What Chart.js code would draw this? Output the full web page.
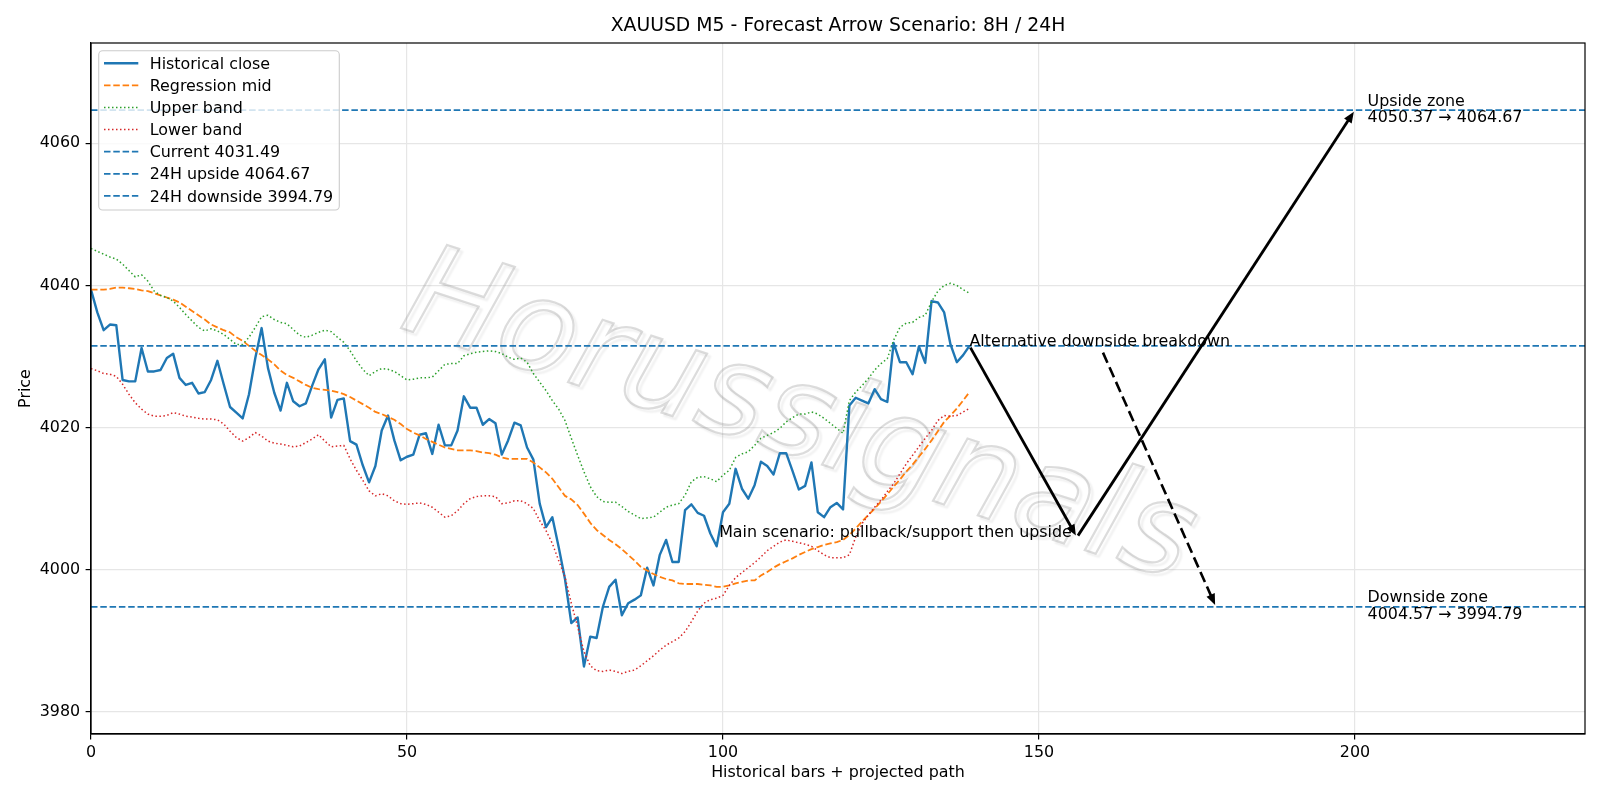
<!DOCTYPE html>
<html><head><meta charset="utf-8">
<script src="https://cdn.jsdelivr.net/npm/chart.js@4.4.1/dist/chart.umd.min.js"></script>
<style>html,body{margin:0;padding:0;background:#fff;}canvas{display:block;}</style>
</head><body>
<canvas id="c" width="1600" height="800"></canvas>
<script>
// ---------- data ----------
const TITLE = 'XAUUSD M5 - Forecast Arrow Scenario: 8H / 24H';
const X_LABEL = 'Historical bars + projected path';
const Y_LABEL = 'Price';
const X_MIN = 0, X_MAX = 236.4;
const Y_MIN = 3976.9, Y_MAX = 4074.1;
const X_TICK_STEP = 50, Y_TICK_STEP = 20;

const historicalClose = [
4039.4,4036.2,4033.7,4034.5,4034.4,4026.7,4026.5,4026.5,4031.2,4027.9,
4027.9,4028.1,4029.8,4030.4,4027.0,4026.0,4026.3,4024.8,4025.0,4026.7,
4029.4,4026.1,4022.9,4022.1,4021.3,4024.7,4029.8,4034.0,4028.4,4024.9,
4022.4,4026.3,4023.7,4023.0,4023.4,4025.9,4028.2,4029.6,4021.4,4023.9,
4024.1,4018.1,4017.6,4014.7,4012.3,4014.6,4019.6,4021.7,4018.2,4015.4,
4015.9,4016.2,4019.0,4019.2,4016.3,4020.4,4017.5,4017.5,4019.6,4024.4,
4022.8,4022.8,4020.4,4021.2,4020.6,4016.2,4018.2,4020.7,4020.3,4017.2,
4015.5,4009.3,4006.0,4007.4,4003.2,3998.7,3992.5,3993.3,3986.4,3990.6,
3990.4,3994.8,3997.6,3998.6,3993.6,3995.3,3995.8,3996.4,4000.3,3997.8,
4002.1,4004.2,4001.1,4001.1,4008.4,4009.2,4008.0,4007.6,4005.1,4003.3,
4008.1,4009.3,4014.2,4011.4,4010.0,4011.9,4015.2,4014.6,4013.4,4016.4,
4016.4,4013.9,4011.3,4011.8,4015.1,4008.1,4007.4,4008.8,4009.4,4008.5,
4023.1,4024.2,4023.8,4023.4,4025.4,4024.0,4023.6,4031.9,4029.2,4029.2,
4027.5,4031.4,4029.1,4037.8,4037.6,4036.2,4031.7,4029.2,4030.2,4031.49
];
const regressionMid = [
4039.4,4039.4,4039.4,4039.5,4039.7,4039.7,4039.6,4039.5,4039.3,4039.2,
4038.9,4038.6,4038.3,4038.0,4037.6,4037.0,4036.4,4035.8,4035.2,4034.5,
4034.1,4033.7,4033.4,4032.7,4032.2,4031.5,4030.8,4030.2,4029.6,4028.9,
4028.0,4027.4,4027.0,4026.5,4026.0,4025.6,4025.4,4025.3,4025.2,4025.0,
4024.7,4024.3,4023.8,4023.3,4022.8,4022.2,4021.9,4021.5,4021.1,4020.5,
4019.8,4019.3,4018.9,4018.4,4018.0,4017.6,4017.2,4017.0,4016.8,4016.8,
4016.8,4016.7,4016.5,4016.4,4016.2,4015.8,4015.6,4015.6,4015.6,4015.6,
4015.1,4014.4,4013.7,4012.8,4011.6,4010.4,4009.9,4009.1,4007.9,4006.6,
4005.6,4004.9,4004.2,4003.6,4002.9,4002.1,4001.3,4000.4,3999.9,3999.4,
3999.0,3998.7,3998.5,3998.1,3998.0,3998.0,3998.0,3997.9,3997.8,3997.6,
3997.6,3997.8,3998.1,3998.3,3998.5,3998.5,3999.2,3999.7,4000.3,4000.8,
4001.2,4001.6,4002.1,4002.5,4002.9,4003.2,4003.5,4003.7,4003.9,4004.2,
4004.9,4005.8,4006.8,4007.7,4008.6,4009.6,4010.6,4011.7,4012.7,4013.8,
4014.8,4015.9,4017.0,4018.2,4019.5,4020.8,4021.7,4022.7,4023.8,4025.0
];
const upperBand = [
4045.2,4044.8,4044.4,4044.0,4043.7,4043.0,4042.1,4041.2,4041.5,4040.6,
4039.2,4038.6,4038.3,4037.8,4036.9,4035.9,4035.0,4034.1,4033.6,4033.9,
4033.6,4033.1,4032.4,4031.7,4031.7,4032.7,4034.1,4035.6,4035.8,4035.2,
4034.8,4034.6,4033.8,4033.0,4032.7,4033.0,4033.4,4033.7,4033.5,4032.7,
4032.0,4030.8,4029.4,4028.2,4027.3,4027.9,4028.3,4028.2,4027.9,4027.3,
4026.7,4026.8,4027.0,4027.0,4027.1,4028.0,4028.9,4029.0,4029.0,4030.1,
4030.4,4030.6,4030.7,4030.8,4030.7,4030.4,4029.9,4029.6,4029.8,4029.2,
4027.6,4026.4,4025.2,4023.8,4022.6,4021.0,4018.5,4016.1,4013.8,4011.7,
4010.3,4009.6,4009.5,4009.5,4008.9,4008.2,4007.7,4007.2,4007.3,4007.4,
4008.1,4008.8,4009.1,4009.3,4010.5,4012.4,4013.0,4013.1,4012.8,4012.4,
4013.3,4014.0,4015.8,4016.3,4016.6,4017.5,4018.5,4018.9,4019.3,4019.9,
4020.8,4021.4,4021.9,4021.9,4022.2,4021.9,4021.3,4020.6,4019.9,4019.2,
4023.8,4025.0,4025.9,4026.9,4028.1,4029.0,4029.7,4032.3,4034.1,4034.7,
4034.8,4035.5,4035.8,4037.7,4039.2,4040.0,4040.3,4040.0,4039.4,4038.9
];
const lowerBand = [
4028.3,4028.0,4027.6,4027.5,4027.2,4026.1,4024.7,4023.5,4022.6,4021.9,
4021.6,4021.6,4021.7,4022.1,4021.9,4021.6,4021.5,4021.3,4021.2,4021.2,
4021.1,4020.5,4019.5,4018.6,4018.1,4018.6,4019.3,4018.8,4018.1,4017.8,
4017.7,4017.5,4017.3,4017.4,4017.9,4018.4,4019.0,4018.1,4017.3,4017.4,
4017.5,4015.6,4014.0,4012.6,4011.1,4010.4,4010.7,4010.4,4009.7,4009.3,
4009.2,4009.3,4009.4,4009.2,4008.8,4008.1,4007.4,4007.6,4008.3,4009.3,
4010.0,4010.3,4010.4,4010.4,4010.3,4009.3,4009.4,4009.7,4009.7,4009.3,
4008.6,4006.9,4005.5,4003.7,4001.3,3999.0,3995.3,3992.0,3988.5,3986.5,
3985.8,3985.7,3985.9,3985.7,3985.4,3985.7,3985.9,3986.5,3987.2,3987.9,
3988.7,3989.4,3989.9,3990.4,3991.3,3992.7,3994.2,3995.3,3995.8,3996.0,
3996.4,3997.8,3998.9,3999.6,4000.3,4001.0,4001.8,4002.7,4003.3,4003.9,
4004.2,4004.0,4003.8,4003.6,4003.3,4002.7,4002.1,4001.7,4001.7,4001.7,
4002.1,4004.6,4006.5,4007.7,4008.8,4009.8,4011.0,4012.1,4013.5,4014.9,
4016.1,4017.3,4018.5,4019.6,4021.0,4021.7,4021.6,4021.7,4022.2,4022.7
];
const CURRENT_PRICE = 4031.49;
const UPSIDE_24H = 4064.67;
const DOWNSIDE_24H = 3994.79;
const UPSIDE_ZONE_FROM = 4050.37;
const DOWNSIDE_ZONE_FROM = 4004.57;

// projected paths (bar index, price)
const mainPathX = [139, 156, 200];
const mainPathY = [4031.49, 4004.57, 4064.67];
const altPathX = [160, 178];
const altPathY = [4030.8, 3994.79];

const ALT_LABEL = 'Alternative downside breakdown';
const MAIN_LABEL = 'Main scenario: pullback/support then upside';
const ZONE_LABEL_X = 202;
const WATERMARK = 'Horussignals';

// ---------- styles ----------
const FONT = 'DejaVu Sans';
const FS = 15.9;
const BLUE = '#1f77b4', ORANGE = '#ff7f0e', GREEN = '#2ca02c', RED = '#d62728';

const seriesPts = arr => arr.map((v, i) => ({x: i, y: v}));
const hline = v => [{x: X_MIN, y: v}, {x: X_MAX, y: v}];

const datasets = [
  {label: 'Historical close', data: seriesPts(historicalClose), borderColor: BLUE, borderWidth: 2.4, borderDash: []},
  {label: 'Regression mid', data: seriesPts(regressionMid), borderColor: ORANGE, borderWidth: 1.8, borderDash: [6.5, 2.8]},
  {label: 'Upper band', data: seriesPts(upperBand), borderColor: GREEN, borderWidth: 1.5, borderDash: [1.5, 2.5]},
  {label: 'Lower band', data: seriesPts(lowerBand), borderColor: RED, borderWidth: 1.5, borderDash: [1.5, 2.5]},
  {label: 'Current ' + CURRENT_PRICE.toFixed(2), data: hline(CURRENT_PRICE), borderColor: BLUE, borderWidth: 1.7, borderDash: [6.5, 2.8]},
  {label: '24H upside ' + UPSIDE_24H.toFixed(2), data: hline(UPSIDE_24H), borderColor: BLUE, borderWidth: 1.7, borderDash: [6.5, 2.8]},
  {label: '24H downside ' + DOWNSIDE_24H.toFixed(2), data: hline(DOWNSIDE_24H), borderColor: BLUE, borderWidth: 1.7, borderDash: [6.5, 2.8]}
].map((d, i) => Object.assign(d, {order: -i, pointRadius: 0, tension: 0, fill: false, borderJoinStyle: 'round'}));

function arrow(ctx, x1, y1, x2, y2, opts) {
  const dx = x2 - x1, dy = y2 - y1, L = Math.hypot(dx, dy);
  const ux = dx / L, uy = dy / L;
  const s = opts.shrink || 0;
  const sx = x1 + ux * s, sy = y1 + uy * s;
  const ex = x2 - ux * s, ey = y2 - uy * s;
  const hl = opts.headLen, hw = opts.headWidth;
  ctx.save();
  ctx.strokeStyle = opts.color; ctx.lineWidth = opts.width;
  ctx.setLineDash(opts.dash || []);
  ctx.beginPath(); ctx.moveTo(sx, sy); ctx.lineTo(ex - ux * hl * 0.6, ey - uy * hl * 0.6); ctx.stroke();
  ctx.setLineDash([]);
  ctx.fillStyle = opts.color;
  ctx.beginPath();
  ctx.moveTo(ex, ey);
  ctx.lineTo(ex - ux * hl - uy * hw, ey - uy * hl + ux * hw);
  ctx.lineTo(ex - ux * hl + uy * hw, ey - uy * hl - ux * hw);
  ctx.closePath(); ctx.fill();
  ctx.restore();
}

const decor = {
  id: 'decor',
  beforeDatasetsDraw(chart) {
    const ctx = chart.ctx;
    ctx.save();
    ctx.translate(798, 422);
    ctx.rotate(18 * Math.PI / 180);
    ctx.font = 'oblique 128px "' + FONT + '"';
    ctx.textAlign = 'center'; ctx.textBaseline = 'middle';
    ctx.shadowColor = 'rgba(0,0,0,0.2)'; ctx.shadowOffsetX = 3; ctx.shadowOffsetY = 3; ctx.shadowBlur = 2;
    ctx.lineWidth = 2.2; ctx.strokeStyle = 'rgba(150,150,150,0.33)';
    ctx.strokeText(WATERMARK, 0, 0);
    ctx.restore();
  },
  afterDatasetsDraw(chart) {
    const ctx = chart.ctx, xs = chart.scales.x, ys = chart.scales.y, ca = chart.chartArea;
    const px = v => xs.getPixelForValue(v), py = v => ys.getPixelForValue(v);
    // arrows
    for (let i = 0; i < mainPathX.length - 1; i++) {
      arrow(ctx, px(mainPathX[i]), py(mainPathY[i]), px(mainPathX[i + 1]), py(mainPathY[i + 1]),
        {color: '#000', width: 2.8, headLen: 11, headWidth: 4.5, shrink: 2});
    }
    arrow(ctx, px(altPathX[0]), py(altPathY[0]), px(altPathX[1]), py(altPathY[1]),
      {color: '#000', width: 2.6, headLen: 11, headWidth: 4.5, shrink: 2, dash: [11, 5]});
    // texts
    ctx.save();
    ctx.fillStyle = '#000';
    ctx.font = FS + 'px "' + FONT + '"';
    ctx.textBaseline = 'alphabetic';
    ctx.textAlign = 'left';
    ctx.fillText(ALT_LABEL, px(mainPathX[0]), py(mainPathY[0]));
    ctx.textAlign = 'right';
    ctx.fillText(MAIN_LABEL, px(mainPathX[1]) - 5, py(mainPathY[1]));
    ctx.textAlign = 'left';
    const zone = (title, a, b, v) => {
      const y = py(v);
      ctx.fillText(title, px(ZONE_LABEL_X), y - 4.5);
      ctx.fillText(a.toFixed(2) + ' \u2192 ' + b.toFixed(2), px(ZONE_LABEL_X), y + 12);
    };
    zone('Upside zone', UPSIDE_ZONE_FROM, UPSIDE_24H, UPSIDE_24H);
    zone('Downside zone', DOWNSIDE_ZONE_FROM, DOWNSIDE_24H, DOWNSIDE_24H);
    // title
    ctx.textAlign = 'center';
    ctx.font = '18.8px "' + FONT + '"';
    ctx.fillText(TITLE, (ca.left + ca.right) / 2, 31);
    ctx.restore();
    // spines
    ctx.save();
    ctx.strokeStyle = '#000'; ctx.lineWidth = 1.2;
    ctx.strokeRect(ca.left, ca.top, ca.right - ca.left, ca.bottom - ca.top);
    ctx.restore();
    // legend
    ctx.save();
    const lx = ca.left + 7.7, ly = ca.top + 7.7, lw = 240.6, lh = 159.3, r = 4;
    ctx.fillStyle = 'rgba(255,255,255,0.8)';
    ctx.strokeStyle = '#cccccc'; ctx.lineWidth = 1.1;
    ctx.beginPath();
    ctx.moveTo(lx + r, ly); ctx.lineTo(lx + lw - r, ly); ctx.arcTo(lx + lw, ly, lx + lw, ly + r, r);
    ctx.lineTo(lx + lw, ly + lh - r); ctx.arcTo(lx + lw, ly + lh, lx + lw - r, ly + lh, r);
    ctx.lineTo(lx + r, ly + lh); ctx.arcTo(lx, ly + lh, lx, ly + lh - r, r);
    ctx.lineTo(lx, ly + r); ctx.arcTo(lx, ly, lx + r, ly, r); ctx.closePath();
    ctx.fill(); ctx.stroke();
    ctx.font = FS + 'px "' + FONT + '"';
    ctx.textAlign = 'left'; ctx.textBaseline = 'alphabetic';
    chart.data.datasets.forEach((d, i) => {
      const cy = ly + 12.6 + i * 22.1;
      ctx.strokeStyle = d.borderColor; ctx.lineWidth = d.borderWidth;
      ctx.setLineDash(d.borderDash || []);
      ctx.beginPath(); ctx.moveTo(lx + 5.3, cy); ctx.lineTo(lx + 39.6, cy); ctx.stroke();
      ctx.setLineDash([]);
      ctx.fillStyle = '#000';
      ctx.fillText(d.label, lx + 51, cy + 5.6);
    });
    ctx.restore();
  }
};

const tickFont = {family: FONT, size: FS};
const gridCfg = {color: '#e6e6e6', lineWidth: 1.2, tickColor: '#000', tickLength: 5.4, tickWidth: 1.2, drawTicks: true};
const plainTick = v => String(v);

new Chart(document.getElementById('c'), {
  type: 'line',
  data: {datasets},
  options: {
    responsive: false, animation: false, devicePixelRatio: 1,
    layout: {padding: {left: 0, right: 15, top: 43, bottom: 0}},
    plugins: {legend: {display: false}, title: {display: false}, tooltip: {enabled: false}},
    scales: {
      x: {
        type: 'linear', min: X_MIN, max: X_MAX,
        ticks: {stepSize: X_TICK_STEP, includeBounds: false, font: tickFont, color: '#000', padding: 4, maxRotation: 0, callback: plainTick},
        grid: gridCfg,
        border: {display: true, color: '#000', width: 1.2},
        title: {display: true, text: X_LABEL, font: tickFont, color: '#000', padding: {top: 0, bottom: 17.5}},
        afterFit: s => { s.height = 66; }
      },
      y: {
        type: 'linear', min: Y_MIN, max: Y_MAX,
        ticks: {stepSize: Y_TICK_STEP, includeBounds: false, font: tickFont, color: '#000', padding: 5.4, callback: plainTick},
        grid: gridCfg,
        border: {display: true, color: '#000', width: 1.2},
        title: {display: true, text: Y_LABEL, font: tickFont, color: '#000', padding: {top: 16, bottom: 0}},
        afterFit: s => { s.width = 91; }
      }
    }
  },
  plugins: [decor]
});
</script>
</body></html>
